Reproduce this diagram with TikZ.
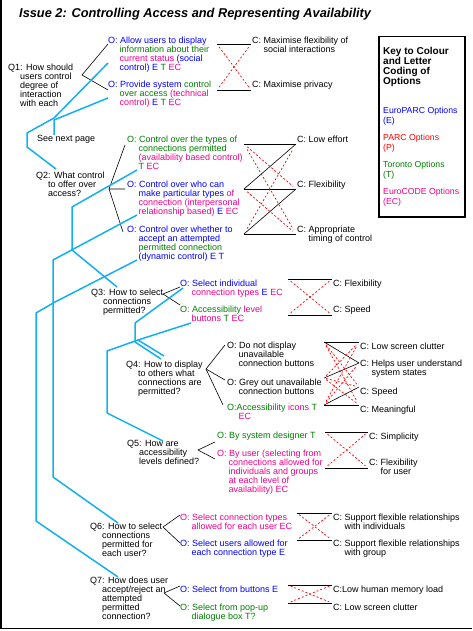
\documentclass[tikz,border=0pt]{standalone}
\usepackage{fontspec}
\setmainfont{Liberation Sans}
\usetikzlibrary{positioning, calc}
\definecolor{eparcblue}{RGB}{0,0,255}
\definecolor{parcred}{RGB}{255,0,0}
\definecolor{torgreen}{RGB}{0,128,0}
\definecolor{ecpink}{RGB}{240,0,140}
\definecolor{issueblue}{RGB}{20,175,240}
\newcommand{\eparc}[1]{\textcolor{eparcblue}{#1}}
\newcommand{\toron}[1]{\textcolor{torgreen}{#1}}
\newcommand{\ecode}[1]{\textcolor{ecpink}{#1}}
\newcommand{\nl}{\\\hspace*{11.5pt}}
\newcommand{\ql}{\\\hspace*{12pt}}

\begin{document}
\begin{tikzpicture}[x=1pt, y=-1pt,
    txt/.style={anchor=north west, inner sep=0pt, align=left, font=\fontsize{9}{9}\selectfont},
    keytxt/.style={txt, font=\fontsize{8.7}{10}\selectfont},
    link/.style={line width=0.6pt},
    proline/.style={line width=0.6pt},
    conline/.style={parcred, line width=0.7pt, dash pattern=on 2pt off 2pt},
    issue/.style={issueblue, line width=1.5pt, line join=round}]
    \useasboundingbox (0,0) rectangle (472,631);
    \draw[line width=1.5pt] (1,0) -- (1,628.5) -- (472,628.5);

    % title and key
    \node[txt, font=\fontsize{12.8}{15}\selectfont\bfseries\itshape] (title) at (19,8.5) {Issue 2: Controlling Access and Representing Availability};
    \node[draw, line width=1.5pt, minimum width=86, minimum height=180, anchor=north west, inner sep=0pt] (key) at (378,36) {};
    \node[txt, font=\fontsize{10}{10}\selectfont\bfseries] (keyhead) at (383,47.5) {Key to Colour\\and Letter\\Coding of\\Options};
    \node[keytxt, text=eparcblue] (keye) at (383,106.5) {EuroPARC Options\\(E)};
    \node[keytxt, text=parcred] (keyp) at (383,133.5) {PARC Options\\(P)};
    \node[keytxt, text=torgreen] (keyt) at (383,160.5) {Toronto Options\\(T)};
    \node[keytxt, text=ecpink] (keyec) at (383,187.5) {EuroCODE Options\\(EC)};

    % Q1
    \node[txt] (q1) at (8,63.5) {Q1: How should\ql users control\ql degree of\ql interaction\ql with each};
    \node[txt] (o1a) at (108,36.5) {\eparc{O: Allow users to display}\nl \toron{information about their}\nl \ecode{current status} \eparc{(social}\nl \eparc{control) E} \toron{T} \ecode{EC}};
    \node[txt] (o1b) at (108,80.5) {\eparc{O: Provide system} \toron{control}\nl \toron{over access} \ecode{(technical}\nl \ecode{control)} \eparc{E} \toron{T} \ecode{EC}};
    \node[txt] (c1a) at (252,36.5) {C: Maximise flexibility of\nl social interactions};
    \node[txt] (c1b) at (252,80.5) {C: Maximise privacy};
    \node[txt] (seenext) at (37,135.5) {See next page};

    % Q2
    \node[txt] (q2) at (36,171.5) {Q2: What control\ql to offer over\ql access?};
    \node[txt] (o2a) at (127,135.5) {\toron{O: Control over the types of}\nl \toron{connections permitted}\nl \ecode{(availability based control)}\nl \toron{T} \ecode{EC}};
    \node[txt] (o2b) at (127,180.5) {\eparc{O: Control over who can}\nl \eparc{make particular types} \ecode{of}\nl \ecode{connection (interpersonal}\nl \ecode{relationship based)} \eparc{E} \ecode{EC}};
    \node[txt] (o2c) at (127,225.5) {\eparc{O: Control over whether to}\nl \eparc{accept an attempted}\nl \toron{permitted connection}\nl \eparc{(dynamic control) E T}};
    \node[txt] (c2a) at (297,135.5) {C: Low effort};
    \node[txt] (c2b) at (297,180.5) {C: Flexibility};
    \node[txt] (c2c) at (297,225.5) {C: Appropriate\nl timing of control};

    % Q3
    \node[txt] (q3) at (91,288.5) {Q3: How to select\ql connections\ql permitted?};
    \node[txt] (o3a) at (180,279.5) {\eparc{O: Select individual}\nl \ecode{connection types} \eparc{E} \ecode{EC}};
    \node[txt] (o3b) at (180,305.5) {\toron{O: Accessibility} \ecode{level}\nl \ecode{buttons} \toron{T} \ecode{EC}};
    \node[txt] (c3a) at (333,279.5) {C: Flexibility};
    \node[txt] (c3b) at (333,305.5) {C: Speed};

    % Q4
    \node[txt] (q4) at (126,360.5) {Q4: How to display\ql to others what\ql connections are\ql permitted?};
    \node[txt] (o4a) at (227,341.5) {O: Do not display\nl unavailable\nl connection buttons};
    \node[txt] (o4b) at (227,378.5) {O: Grey out unavailable\nl connection buttons};
    \node[txt] (o4c) at (227,403.5) {\toron{O:Accessibility} \ecode{icons} \toron{T}\nl \ecode{EC}};
    \node[txt] (c4a) at (360,342.5) {C: Low screen clutter};
    \node[txt] (c4b) at (360,359.5) {C: Helps user understand\nl system states};
    \node[txt] (c4c) at (360,387.5) {C: Speed};
    \node[txt] (c4d) at (360,405.5) {C: Meaningful};

    % Q5
    \node[txt] (q5) at (127,440.5) {Q5: How are\ql accessibility\ql levels defined?};
    \node[txt, text=torgreen] (o5a) at (217,431.5) {O: By system designer T};
    \node[txt, text=ecpink] (o5b) at (217,449.5) {O: By user (selecting from\nl connections allowed for\nl individuals and groups\nl at each level of\nl availability) EC};
    \node[txt] (c5a) at (369,432.5) {C: Simplicity};
    \node[txt] (c5b) at (369,458.5) {C: Flexibility\nl for user};

    % Q6
    \node[txt] (q6) at (90,522.5) {Q6: How to select\ql connections\ql permitted for\ql each user?};
    \node[txt, text=ecpink] (o6a) at (180,513.5) {O: Select connection types\nl allowed for each user EC};
    \node[txt, text=eparcblue] (o6b) at (180,539.5) {O: Select users allowed for\nl each connection type E};
    \node[txt] (c6a) at (333,513.5) {C: Support flexible relationships\nl with individuals};
    \node[txt] (c6b) at (333,539.5) {C: Support flexible relationships\nl with group};

    % Q7
    \node[txt] (q7) at (90,576.5) {Q7: How does user\ql accept/reject an\ql attempted\ql permitted\ql connection?};
    \node[txt, text=eparcblue] (o7a) at (180,585.5) {O: Select from buttons E};
    \node[txt, text=torgreen] (o7b) at (180,603.5) {O: Select from pop-up\nl dialogue box T?};
    \node[txt] (c7a) at (333,585.5) {C:Low human memory load};
    \node[txt] (c7b) at (333,603.5) {C: Low screen clutter};

    % question to option brackets
    \coordinate (j1) at (82,75);
    \coordinate (j2) at (109,189);
    \coordinate (j3) at (163,294);
    \coordinate (j4) at (206,369);
    \coordinate (j5) at (198,450);
    \coordinate (j6) at (163,527);
    \coordinate (j7) at (164,593);
    \draw[link] (108,44) -- (j1) -- (108,90);
    \draw[link] (125,145) -- (j2) -- (125,189);
    \draw[link] (j2) -- (123,232);
    \draw[link] (180,287) -- (j3) -- (180,305);
    \draw[link] (225,345) -- (j4) -- (225,380);
    \draw[link] (j4) -- (223,405);
    \draw[link] (215,442) -- (j5) -- (215,459);
    \draw[link] (180,515) -- (j6) -- (180,543);
    \draw[link] (180,586) -- (j7) -- (180,606);

    % option / criterion ends
    \coordinate (o1a-r) at (217,44);  \coordinate (o1b-r) at (217,90);
    \coordinate (c1a-l) at (251,44);  \coordinate (c1b-l) at (251,90);
    \coordinate (o2a-r) at (244,144); \coordinate (o2b-r) at (244,189); \coordinate (o2c-r) at (244,234);
    \coordinate (c2a-l) at (296,144); \coordinate (c2b-l) at (296,189); \coordinate (c2c-l) at (296,234);
    \coordinate (o3a-r) at (288,279); \coordinate (o3b-r) at (288,315);
    \coordinate (c3a-l) at (332,279); \coordinate (c3b-l) at (332,315);
    \coordinate (o4a-r) at (324,342); \coordinate (o4b-r) at (324,378); \coordinate (o4c-r) at (324,405);
    \coordinate (c4a-l) at (359,342); \coordinate (c4b-l) at (359,363); \coordinate (c4c-l) at (359,387); \coordinate (c4d-l) at (359,405);
    \coordinate (o5a-r) at (325,432); \coordinate (o5b-r) at (325,468);
    \coordinate (c5a-l) at (368,432); \coordinate (c5b-l) at (368,468);
    \coordinate (o6a-r) at (297,513); \coordinate (o6b-r) at (297,540);
    \coordinate (c6a-l) at (332,513); \coordinate (c6b-l) at (332,540);
    \coordinate (o7a-r) at (288,585); \coordinate (o7b-r) at (288,603);
    \coordinate (c7a-l) at (332,585); \coordinate (c7b-l) at (332,603);

    % assessments: solid for, dashed against
    \foreach \o/\c in {o1a/c1a, o1b/c1b, o2a/c2a, o2b/c2a, o2b/c2b, o2c/c2b, o2c/c2c,
                       o3a/c3a, o3b/c3b, o4a/c4a, o4a/c4b, o4b/c4b, o4c/c4c, o4c/c4d,
                       o5a/c5a, o5b/c5b, o6a/c6a, o6b/c6b, o7a/c7a, o7b/c7b}
        \draw[proline] (\o-r) -- (\c-l);
    \foreach \o/\c in {o1a/c1b, o1b/c1a, o2a/c2b, o2a/c2c, o2b/c2c, o2c/c2a,
                       o3a/c3b, o3b/c3a, o4a/c4c, o4a/c4d, o4b/c4a, o4b/c4c, o4b/c4d, o4c/c4a, o4c/c4b,
                       o5a/c5b, o5b/c5a, o6a/c6b, o6b/c6a, o7a/c7b, o7b/c7a}
        \draw[conline] ($(\o-r)!0.06!(\c-l)$) -- ($(\o-r)!0.94!(\c-l)$);

    % issue links between options and later questions
    \draw[issue] (108,63) -- (54,118) -- (27,133) -- (27,147) -- (56,169);
    \draw[issue] (108,98) -- (54,120) -- (54,135);
    \draw[issue] (137,170) -- (72,207) -- (72,250) -- (117,287);
    \draw[issue] (137,215) -- (53,260) -- (53,477) -- (118,523);
    \draw[issue] (137,260) -- (55,302) -- (36,313) -- (36,521) -- (118,577);
    \draw[issue] (183,288) -- (135,323) -- (135,342) -- (161,359);
    \draw[issue] (191,323) -- (138,340) -- (164,356);
    \draw[issue] (138,340) -- (107,351) -- (107,413) -- (163,441);
\end{tikzpicture}
\end{document}
